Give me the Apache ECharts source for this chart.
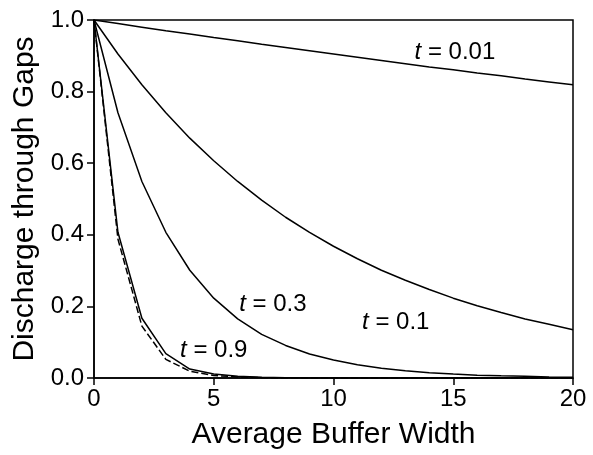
<!DOCTYPE html>
<html>
<head>
<meta charset="utf-8">
<script src="https://cdn.jsdelivr.net/npm/echarts@6/dist/echarts.min.js"></script>
<style>
html,body{margin:0;padding:0;background:#fff;}
#chart{width:593px;height:455px;}
</style>
</head>
<body>
<div id="chart"></div>
<script>
const xValues = [0,1,2,3,4,5,6,7,8,9,10,11,12,13,14,15,16,17,18,19,20];
const tickLabelsX = ['0','5','10','15','20'];
const t001 = [1,0.990,0.980,0.970,0.961,0.951,0.942,0.932,0.923,0.914,0.905,0.896,0.887,0.878,0.869,0.861,0.852,0.844,0.835,0.827,0.819];
const t01 = [1,0.905,0.819,0.741,0.670,0.607,0.549,0.497,0.449,0.407,0.368,0.333,0.301,0.273,0.247,0.223,0.202,0.183,0.165,0.150,0.135];
const t03 = [1,0.741,0.549,0.407,0.301,0.223,0.165,0.122,0.091,0.067,0.050,0.037,0.027,0.020,0.015,0.011,0.008,0.006,0.005,0.003,0.002];
const t09 = [1,0.407,0.167,0.068,0.025,0.011,0.005,0.002,0.001,0,0,0,0,0,0,0,0,0,0,0,0];
const t09dashed = [1,0.388,0.145,0.052,0.019,0.007,0.003,0.001,0,0,0,0,0,0,0,0,0,0,0,0,0];
const curveLabels = ['0.01','0.1','0.3','0.9'];
const labelAnchors = [[15.07,0.91],[12.6,0.155],[7.47,0.207],[5.0,0.078]];

const FONT = 'Liberation Sans, Arial, Helvetica, sans-serif';
function pairs(arr){ return xValues.map((x,i)=>[x,arr[i]]); }
function lineSeries(arr, dashed){
  return {
    type:'line', data:pairs(arr), showSymbol:false, smooth:false, silent:true,
    lineStyle:{color:'#000', width:1.5, type: dashed ? [7,3] : 'solid'},
    z: dashed ? 2 : 3
  };
}
const chart = echarts.init(document.getElementById('chart'), null, {renderer:'canvas'});
chart.setOption({
  animation:false,
  backgroundColor:'#fff',
  grid:{left:94, right:20, top:20, bottom:77, show:true, borderColor:'#000', borderWidth:1.5, containLabel:false},
  xAxis:{
    type:'value', min:0, max:20, interval:5,
    name:'Average Buffer Width', nameLocation:'middle', nameGap:42,
    nameTextStyle:{fontFamily:FONT, fontSize:30, color:'#000'},
    axisLine:{show:true, onZero:false, lineStyle:{color:'#000', width:1.5}},
    axisTick:{show:true, inside:false, length:7, lineStyle:{color:'#000', width:1.5}},
    axisLabel:{fontFamily:FONT, fontSize:24, color:'#000', margin:9,
      formatter:function(v){ return tickLabelsX[Math.round(v/5)]; }},
    splitLine:{show:false}
  },
  yAxis:{
    type:'value', min:0, max:1, interval:0.2,
    name:'Discharge through Gaps', nameLocation:'middle', nameGap:54,
    nameTextStyle:{fontFamily:FONT, fontSize:30, color:'#000'},
    axisLine:{show:true, lineStyle:{color:'#000', width:1.5}},
    axisTick:{show:true, inside:false, length:7, lineStyle:{color:'#000', width:1.5}},
    axisLabel:{fontFamily:FONT, fontSize:24, color:'#000', margin:10,
      formatter:function(v){ return v.toFixed(1); }},
    splitLine:{show:false}
  },
  series:[
    lineSeries(t001,false),
    lineSeries(t01,false),
    lineSeries(t03,false),
    lineSeries(t09,false),
    lineSeries(t09dashed,true)
  ]
});
const graphics = labelAnchors.map(function(a, i){
  const p = chart.convertToPixel({gridIndex:0}, a);
  return {
    type:'text', x:p[0], y:p[1], silent:true, z:10,
    style:{
      text:'{i|t} = ' + curveLabels[i],
      align:'center', verticalAlign:'middle',
      fill:'#000', fontFamily:FONT, fontSize:24,
      rich:{i:{fontStyle:'italic', fontFamily:FONT, fontSize:24, fill:'#000'}}
    }
  };
});
chart.setOption({graphic:graphics});
</script>
</body>
</html>
